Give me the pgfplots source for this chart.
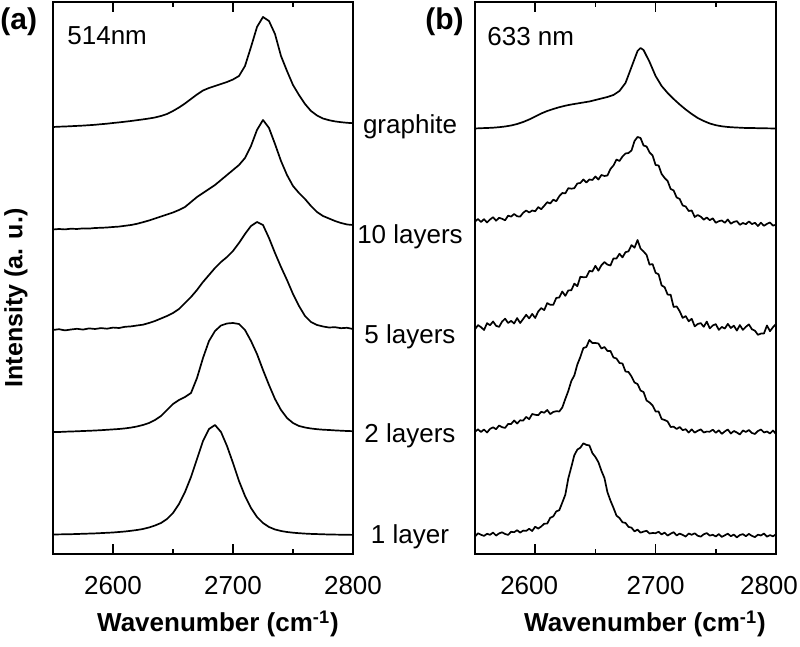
\documentclass[border=0pt]{standalone}
\usepackage{pgfplots}
\pgfplotsset{compat=1.18}
\usepackage{fontspec}
\setmainfont{Liberation Sans}
\begin{document}
\begin{tikzpicture}
\useasboundingbox (0,0) rectangle (400pt,323.5pt);
\pgfplotsset{
  ramanax/.style={
    anchor=south west, scale only axis, height=276pt,
    xmin=2550, xmax=2800, ymin=0, ymax=552,
    xtick={2600,2700,2800},
    minor xtick={2650,2750},
    ytick=\empty,
    tick align=inside,
    major tick length=5pt, minor tick length=2.5pt,
    axis line style={line width=1pt},
    every tick/.style={black, line width=0.8pt},
    /pgf/number format/assume math mode=true,
    tick label style={font=\fontsize{13}{15}\selectfont},
    xticklabel style={yshift=-7.7pt},
    clip=true,
  },
  spec/.style={black, line width=0.85pt, line join=round, mark=none},
}
% ---------- panel (a) ----------
\begin{axis}[ramanax, at={(26.5pt,46.5pt)}, width=150pt,
  xticklabels={2600,2700,2800},
  minor ytick={19,122,224,324,427,529}]
\addplot[spec] coordinates {(2550,19.5)(2555,19.6)(2560,19.7)(2565,19.8)(2570,20)(2575,20.2)(2580,20.4)(2585,20.6)(2590,20.9)(2595,21.2)(2600,21.5)(2605,22)(2610,22.5)(2615,23.2)(2620,24)(2625,25)(2630,26.5)(2635,28.5)(2640,31)(2645,35)(2650,41)(2655,50)(2660,62)(2665,77)(2670,95)(2675,113)(2680,125)(2685,129)(2690,122)(2695,108)(2700,91)(2705,73)(2710,58)(2715,46)(2720,37)(2725,31)(2730,27)(2735,24.5)(2740,23)(2745,22)(2750,21.3)(2755,20.8)(2760,20.4)(2765,20.1)(2770,19.9)(2775,19.7)(2780,19.5)(2785,19.4)(2790,19.3)(2795,19.2)(2800,19.1)};
\addplot[spec] coordinates {(2550,122)(2555,122)(2560,122.3)(2565,122.5)(2570,122.7)(2575,123)(2580,123.2)(2585,123.5)(2590,123.8)(2595,124.2)(2600,124.6)(2605,125)(2610,125.6)(2615,126.4)(2620,127.5)(2625,129)(2630,131)(2635,134)(2640,138)(2645,144)(2650,150)(2655,154)(2660,157)(2665,161)(2670,176)(2675,196)(2680,213)(2685,223)(2690,228.5)(2695,230.5)(2700,231)(2705,230)(2710,224)(2715,213)(2720,200)(2725,184)(2730,169)(2735,155)(2740,144)(2745,136)(2750,131)(2755,128)(2760,126.5)(2765,125.5)(2770,124.8)(2775,124.3)(2780,124)(2785,123.6)(2790,123.3)(2795,123)(2800,122.8)};
\addplot[spec] coordinates {(2550,224)(2555,224.8)(2560,223.6)(2565,224.5)(2570,225.2)(2575,224.4)(2580,225.6)(2585,225)(2590,225.9)(2595,225.3)(2600,226.4)(2605,226)(2610,227.2)(2615,227.6)(2620,228.5)(2625,229.3)(2630,231)(2635,233)(2640,235.5)(2645,238)(2650,241)(2655,245)(2660,251)(2665,257)(2670,264)(2675,272)(2680,279)(2685,286)(2690,292)(2695,297)(2700,303)(2705,311)(2710,320)(2715,328)(2720,332)(2725,329)(2730,316)(2735,301)(2740,287)(2745,274)(2750,260)(2755,248)(2760,238)(2765,232)(2770,229)(2775,227.5)(2780,226.5)(2785,226.8)(2790,225.8)(2795,226.2)(2800,225)};
\addplot[spec] coordinates {(2550,324.5)(2555,325)(2560,324.6)(2565,325.3)(2570,325)(2575,325.6)(2580,325.4)(2585,326)(2590,326.2)(2595,326.5)(2600,327)(2605,327.4)(2610,328.2)(2615,329)(2620,330.2)(2625,331.8)(2630,333.5)(2635,335.5)(2640,337.5)(2645,339.5)(2650,341.5)(2655,344)(2660,347)(2665,352)(2670,357)(2675,361)(2680,365)(2685,369)(2690,374)(2695,379)(2700,384)(2705,389)(2710,396)(2715,408)(2720,424)(2725,434)(2730,426)(2735,410)(2740,393)(2745,379)(2750,368)(2755,361)(2760,355)(2765,348)(2770,342)(2775,338)(2780,335.5)(2785,333)(2790,331)(2795,329.5)(2800,329)};
\addplot[spec] coordinates {(2550,427)(2555,427.3)(2560,427.5)(2565,427.8)(2570,428.1)(2575,428.4)(2580,428.8)(2585,429.2)(2590,429.8)(2595,430.3)(2600,431)(2605,431.6)(2610,432.3)(2615,433)(2620,433.8)(2625,434.6)(2630,435.5)(2635,436.5)(2640,438)(2645,440)(2650,443)(2655,446.5)(2660,450.5)(2665,455)(2670,459.5)(2675,463.5)(2680,466)(2685,468)(2690,470)(2695,472)(2700,474.5)(2705,478)(2710,488)(2715,507)(2720,527)(2725,537)(2730,533)(2735,520)(2740,498)(2745,483)(2750,469)(2755,459)(2760,450)(2765,443)(2770,438.5)(2775,435.5)(2780,433.8)(2785,432.6)(2790,431.8)(2795,431.2)(2800,430.8)};
\end{axis}
% ---------- panel (b) ----------
\begin{axis}[ramanax, at={(237.5pt,46.5pt)}, width=150.5pt,
  xticklabels={\hspace*{-6pt}2600,2700,\hspace*{-7pt}2800},
  minor ytick={69,172,275,378,481}]
\addplot[spec] coordinates {(2550,17.4)(2552.5,20.7)(2555,19.2)(2557.5,18.1)(2560,20.2)(2562.5,19.2)(2565,21.4)(2567.5,18.4)(2570,20.6)(2572.5,21.7)(2575,20)(2577.5,19.1)(2580,22.2)(2582.5,21.8)(2585,23.8)(2587.5,21.4)(2590,23.4)(2592.5,23.1)(2595,25.2)(2597.5,23)(2600,27.3)(2602.5,25.4)(2605,27.5)(2607.5,30.3)(2610,30.4)(2612.5,36.2)(2615,37.6)(2617.5,42.6)(2620,43.8)(2622.5,51.4)(2625,59.2)(2627.5,75.6)(2630,87)(2632.5,98.8)(2635,104.4)(2637.5,106.3)(2640,110.7)(2642.5,109.1)(2645,108.6)(2647.5,100.9)(2650,97)(2652.5,91.8)(2655,83.2)(2657.5,76)(2660,61.8)(2662.5,53.4)(2665,46.2)(2667.5,38.4)(2670,36)(2672.5,31.7)(2675,31.1)(2677.5,27.1)(2680,26.3)(2682.5,22.6)(2685,24.4)(2687.5,21.3)(2690,22.4)(2692.5,23.2)(2695,20.5)(2697.5,21)(2700,20.8)(2702.5,22.2)(2705,19.6)(2707.5,21.4)(2710,18.4)(2712.5,20.3)(2715,21.8)(2717.5,18.5)(2720,20.4)(2722.5,19.1)(2725,17.4)(2727.5,20.5)(2730,19.2)(2732.5,20.7)(2735,18.2)(2737.5,17.4)(2740,19.7)(2742.5,20.9)(2745,18.4)(2747.5,19.2)(2750,17.5)(2752.5,19.9)(2755,17.1)(2757.5,18.7)(2760,20.3)(2762.5,17.8)(2765,19.4)(2767.5,16.6)(2770,19)(2772.5,19.8)(2775,17.8)(2777.5,20.1)(2780,18.1)(2782.5,16.9)(2785,19.3)(2787.5,18.5)(2790,20.5)(2792.5,17.3)(2795,18.9)(2797.5,17.7)(2800,19.7)};
\addplot[spec] coordinates {(2550,122.3)(2552.5,124.6)(2555,122)(2557.5,124.5)(2560,121.5)(2562.5,125.1)(2565,126.7)(2567.5,124.8)(2570,128.5)(2572.5,126.8)(2575,126.1)(2577.5,130)(2580,130)(2582.5,133.5)(2585,130.5)(2587.5,133.7)(2590,133.4)(2592.5,137.1)(2595,134.8)(2597.5,140)(2600,139.2)(2602.5,138.8)(2605,142.2)(2607.5,141.3)(2610,144)(2612.5,139.9)(2615,142)(2617.5,142.8)(2620,142.5)(2622.5,146.5)(2625,155)(2627.5,163)(2630,173)(2632.5,178.5)(2635,189.5)(2637.5,197)(2640,206)(2642.5,207)(2645,214)(2647.5,211)(2650,211)(2652.5,210.5)(2655,205.5)(2657.5,207)(2660,203)(2662.5,203)(2665,196.5)(2667.5,195.5)(2670,191)(2672.5,190.5)(2675,182.5)(2677.5,182)(2680,177.5)(2682.5,171.5)(2685,170)(2687.5,163.5)(2690,162)(2692.5,153.5)(2695,151.5)(2697.5,148.5)(2700,142.5)(2702.5,142.5)(2705,135)(2707.5,134)(2710,132.5)(2712.5,127)(2715,127.3)(2717.5,125)(2720,127)(2722.5,123.8)(2725,124.8)(2727.5,121.4)(2730,124.6)(2732.5,121.4)(2735,123.2)(2737.5,124.6)(2740,121.5)(2742.5,122.4)(2745,122.3)(2747.5,124.3)(2750,121.2)(2752.5,123.7)(2755,120.1)(2757.5,122.6)(2760,124.5)(2762.5,120.5)(2765,123)(2767.5,121.5)(2770,119.5)(2772.5,123.5)(2775,122)(2777.5,124)(2780,121)(2782.5,120)(2785,123)(2787.5,124.5)(2790,121.5)(2792.5,122.5)(2795,120.5)(2797.5,123.5)(2800,120)};
\addplot[spec] coordinates {(2550,224.6)(2552.5,228.9)(2555,226.8)(2557.5,224)(2560,230.8)(2562.5,228.8)(2565,232.5)(2567.5,228.2)(2570,227.1)(2572.5,232.4)(2575,235.3)(2577.5,231)(2580,233.1)(2582.5,230.5)(2585,235.9)(2587.5,231)(2590,235)(2592.5,239.2)(2595,235.6)(2597.5,240.1)(2600,236)(2602.5,242.5)(2605,245.9)(2607.5,243.9)(2610,250.9)(2612.5,249.2)(2615,249.1)(2617.5,256.1)(2620,256.5)(2622.5,262.5)(2625,258.1)(2627.5,263.6)(2630,263.7)(2632.5,270.4)(2635,267.8)(2637.5,277.2)(2640,276.8)(2642.5,276.9)(2645,283.1)(2647.5,282.5)(2650,288.2)(2652.5,283.3)(2655,288.8)(2657.5,291.9)(2660,289.4)(2662.5,288.5)(2665,295.6)(2667.5,295.5)(2670,300.2)(2672.5,296.6)(2675,301.8)(2677.5,302.7)(2680,308.9)(2682.5,306.3)(2685,314)(2687.5,305.4)(2690,302.5)(2692.5,299.1)(2695,289.3)(2697.5,289.9)(2700,281.2)(2702.5,279.7)(2705,268.6)(2707.5,266.8)(2710,259.4)(2712.5,259.2)(2715,247)(2717.5,247.6)(2720,242.8)(2722.5,236.1)(2725,237.9)(2727.5,232.7)(2730,235.2)(2732.5,227.6)(2735,230)(2737.5,230.9)(2740,227.2)(2742.5,232.4)(2745,225.6)(2747.5,228.5)(2750,229.9)(2752.5,224.1)(2755,227.1)(2757.5,225.4)(2760,230.1)(2762.5,226)(2765,228.3)(2767.5,223.4)(2770,228.9)(2772.5,224.1)(2775,227.2)(2777.5,229.6)(2780,224.7)(2782.5,223.3)(2785,219.2)(2787.5,220.4)(2790,220.5)(2792.5,228.5)(2795,222.8)(2797.5,226.8)(2800,230)};
\addplot[spec] coordinates {(2550,332.5)(2552.5,335)(2555,332)(2557.5,334.8)(2560,331.5)(2562.5,334.5)(2565,336.8)(2567.5,333.3)(2570,336.2)(2572.5,335.2)(2575,333.7)(2577.5,338.3)(2580,337.4)(2582.5,340)(2585,337.7)(2587.5,337.4)(2590,341.2)(2592.5,343.5)(2595,341.5)(2597.5,343.5)(2600,342.7)(2602.5,346.9)(2605,344.8)(2607.5,348.2)(2610,351.8)(2612.5,350.5)(2615,354.3)(2617.5,352.8)(2620,357.8)(2622.5,361)(2625,360.6)(2627.5,365.8)(2630,365.3)(2632.5,365.8)(2635,370.5)(2637.5,371)(2640,374.5)(2642.5,371.5)(2645,374.5)(2647.5,374)(2650,377.5)(2652.5,374.5)(2655,379)(2657.5,378)(2660,378.5)(2662.5,385)(2665,388.5)(2667.5,394.5)(2670,393)(2672.5,397.5)(2675,400.5)(2677.5,401)(2680,403.5)(2682.5,413)(2685,417)(2687.5,416)(2690,408.5)(2692.5,407.5)(2695,401.5)(2697.5,398.5)(2700,389)(2702.5,388.5)(2705,380)(2707.5,376)(2710,373)(2712.5,365)(2715,363.5)(2717.5,356.5)(2720,355)(2722.5,348.5)(2725,347.5)(2727.5,343)(2730,343.5)(2732.5,337)(2735,339)(2737.5,337.3)(2740,334.3)(2742.5,336.5)(2745,333.8)(2747.5,335.7)(2750,331.2)(2752.5,332.8)(2755,333.5)(2757.5,331.2)(2760,334.5)(2762.5,330.3)(2765,332.1)(2767.5,332.9)(2770,329.2)(2772.5,331)(2775,329.8)(2777.5,332.6)(2780,329.9)(2782.5,331.2)(2785,328)(2787.5,331.3)(2790,328.2)(2792.5,330.1)(2795,331.5)(2797.5,328.4)(2800,329.3)};
\addplot[spec] coordinates {(2550,425.5)(2555,425.8)(2560,426)(2565,426.3)(2570,426.8)(2575,427.5)(2580,428.5)(2585,430)(2590,432)(2595,434.5)(2600,437.5)(2605,440.5)(2610,443)(2615,445)(2620,446.8)(2625,448.3)(2630,449.5)(2635,450.5)(2640,451.5)(2645,452.5)(2650,454)(2655,455.5)(2660,457)(2665,459)(2670,463)(2675,471)(2680,487)(2685,503)(2687.5,506)(2690,504)(2695,492)(2700,478)(2705,468)(2710,461)(2715,455)(2720,449.5)(2725,444.5)(2730,440)(2735,436)(2740,433)(2745,430.5)(2750,428.8)(2755,427.7)(2760,427)(2765,426.6)(2770,426.3)(2775,426)(2780,426)(2785,425.8)(2790,425.7)(2795,425.6)(2800,425.5)};
\end{axis}
% ---------- texts ----------
\node[anchor=base west, inner sep=0pt, font=\fontsize{15}{17}\selectfont\bfseries] at (0pt,308.5pt) {(a)};
\node[anchor=base west, inner sep=0pt, font=\fontsize{15}{17}\selectfont\bfseries] at (212.5pt,308.5pt) {(b)};
\node[anchor=base west, inner sep=0pt, font=\fontsize{13}{15}\selectfont] at (33.5pt,301pt) {514nm};
\node[anchor=base west, inner sep=0pt, font=\fontsize{13}{15}\selectfont] at (243.5pt,300.5pt) {633 nm};
\foreach \t/\y in {graphite/256.8, 10 layers/201.5, 5 layers/151.8, 2 layers/102.2, 1 layer/51.8}
  \node[anchor=base, inner sep=0pt, font=\fontsize{13}{15}\selectfont] at (205pt,\y pt) {\t};
\node[anchor=base, inner sep=0pt, font=\fontsize{13}{15}\selectfont\bfseries] at (109pt,7.5pt) {Wavenumber (cm\textsuperscript{-1})};
\node[anchor=base, inner sep=0pt, font=\fontsize{13}{15}\selectfont\bfseries] at (322.5pt,7.5pt) {Wavenumber (cm\textsuperscript{-1})};
\node[rotate=90, inner sep=0pt, font=\fontsize{12.5}{15}\selectfont\bfseries] at (8pt,174.5pt) {Intensity (a. u.)};
\end{tikzpicture}
\end{document}
